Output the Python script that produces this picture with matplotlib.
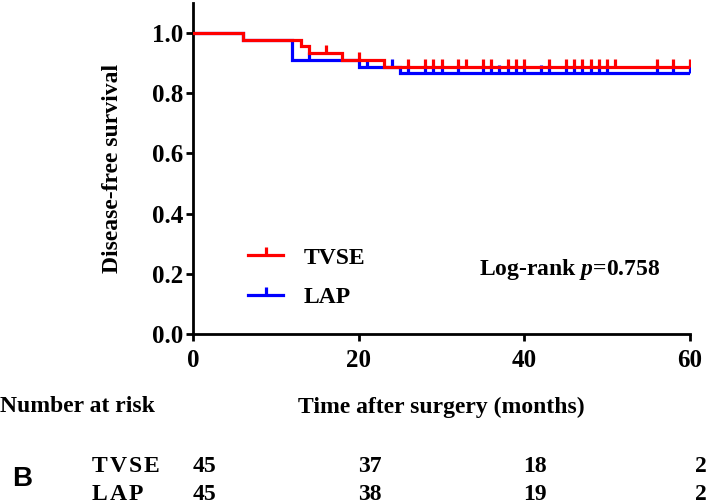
import matplotlib
matplotlib.use("Agg")
import matplotlib.pyplot as plt
import matplotlib.transforms as mtransforms
from matplotlib.lines import Line2D
import numpy as np

# ---- data ----
tvse_times = [0, 6, 13, 14, 18, 23, 60]
tvse_surv = [1.0, 0.978, 0.956, 0.933, 0.911, 0.888, 0.888]
tvse_censor = [16, 20, 26, 28, 29, 30, 32, 33, 35, 36, 38, 39, 40, 43, 45, 46, 47,
               48, 49, 50, 51, 56, 58, 60]

lap_times = [0, 6, 12, 20, 25, 60]
lap_surv = [1.0, 0.978, 0.911, 0.888, 0.866, 0.866]
lap_censor = [14, 21, 24, 26, 28, 29, 30, 32, 35, 36, 37, 38, 39, 40, 42, 43, 45,
              46, 47, 48, 49, 50, 56, 58, 60]

risk_times = [0, 20, 40, 60]
tvse_risk = [45, 37, 18, 2]
lap_risk = [45, 38, 19, 2]

x_ticks = [0, 20, 40, 60]
y_ticks = [0.0, 0.2, 0.4, 0.6, 0.8, 1.0]

RED = "#ff0000"
BLUE = "#0000ff"

plt.rcParams["font.family"] = ["Liberation Serif", "DejaVu Serif"]
plt.rcParams["font.weight"] = "bold"
plt.rcParams["mathtext.fontset"] = "custom"
plt.rcParams["mathtext.it"] = "Liberation Serif:italic:bold"
plt.rcParams["mathtext.rm"] = "Liberation Serif:bold"

FS = 17
TFS = 18

W, H = 709, 504
fig = plt.figure(figsize=(W / 100, H / 100), dpi=100)
ax = fig.add_axes([193 / W, 1 - 334 / H, (690 - 193) / W, 331 / H])


def surv_at(times, surv, t):
    idx = np.searchsorted(times, t, side="right") - 1
    return surv[idx]


lw = 2.3
for times, surv, cens, col, z in [(lap_times, lap_surv, lap_censor, BLUE, 2),
                                  (tvse_times, tvse_surv, tvse_censor, RED, 3)]:
    ax.step(times, surv, where="post", color=col, lw=lw, zorder=z,
            solid_joinstyle="miter")
    cy = [surv_at(times, surv, t) for t in cens]
    ax.plot(cens, cy, linestyle="none", marker=2, markersize=6,
            markeredgewidth=lw, color=col, zorder=z)

ax.set_xlim(0, 60)
ax.set_ylim(0, 1.1)
ax.set_xticks(x_ticks)
ax.set_yticks(y_ticks)
ax.set_yticklabels([f"{v:.1f}" for v in y_ticks])
for s in ["top", "right"]:
    ax.spines[s].set_visible(False)
for s in ["left", "bottom"]:
    ax.spines[s].set_linewidth(2.0)
ax.tick_params(axis="both", direction="out", length=5, width=2.0,
               labelsize=TFS)
ax.tick_params(axis="x", pad=6)
ax.tick_params(axis="y", pad=2)
for lab in ax.get_xticklabels() + ax.get_yticklabels():
    lab.set_fontweight("bold")

ax.set_ylabel("Disease-free survival", fontsize=FS, fontweight="bold")
ax.yaxis.set_label_coords(-0.141, 0.5)

handles = [Line2D([], [], color=RED, lw=lw, marker=2, markersize=6, markeredgewidth=lw),
           Line2D([], [], color=BLUE, lw=lw, marker=2, markersize=6, markeredgewidth=lw)]
ax.legend(handles, ["TVSE", "LAP"], loc="upper left",
          bbox_to_anchor=((248 - 193) / 497, (334 - 247) / 331),
          frameon=False, borderpad=0, borderaxespad=0, handlelength=1.5,
          handletextpad=0.85, labelspacing=0.75,
          prop={"family": "Liberation Serif", "weight": "bold", "size": FS})

ax.text((660 - 193) / 497, (334 - 270) / 331, "Log-rank $p$=0.758",
        transform=ax.transAxes, ha="right", va="center", fontsize=FS,
        fontweight="bold")

fig.text(0.0, 1 - 407 / H, "Number at risk", ha="left", va="center",
         fontsize=FS, fontweight="bold")
fig.text((193 + 690) / 2 / W, 1 - 407 / H, "Time after surgery (months)",
         ha="center", va="center", fontsize=FS, fontweight="bold")

fig.text(12 / W, 1 - 479 / H, "B", ha="left", va="center", fontsize=20,
         fontweight="bold", family=["Liberation Sans", "DejaVu Sans"])

# spaced group labels
fig.canvas.draw()
renderer = fig.canvas.get_renderer()


def spaced(label, x0, yc, spacing=2.0):
    x = x0
    for ch in label:
        t = fig.text(x / W, 1 - yc / H, ch, ha="left", va="center",
                     fontsize=FS, fontweight="bold")
        bb = t.get_window_extent(renderer)
        x += bb.width + spacing


spaced("TVSE", 92, 466)
spaced("LAP", 92, 495)

offset = mtransforms.ScaledTranslation(11 / 100, 0, fig.dpi_scale_trans)
blend = mtransforms.blended_transform_factory(ax.transData, fig.transFigure) + offset
for vals, yc in [(tvse_risk, 466), (lap_risk, 495)]:
    for t, v in zip(risk_times, vals):
        fig.text(t, 1 - yc / H, str(v), transform=blend, ha="center",
                 va="center", fontsize=FS, fontweight="bold")

fig.savefig("out.png", dpi=100)
